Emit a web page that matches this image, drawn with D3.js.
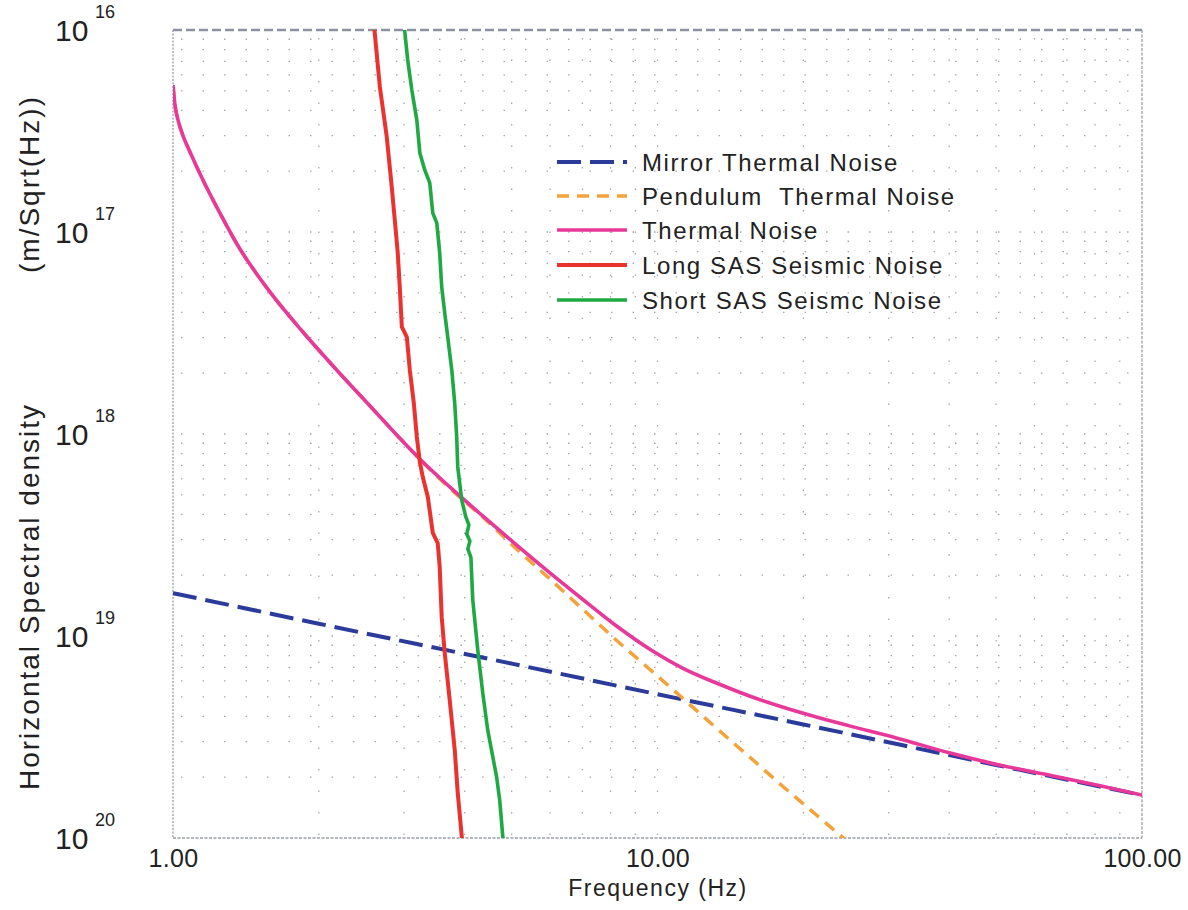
<!DOCTYPE html>
<html><head><meta charset="utf-8">
<script src="https://cdn.jsdelivr.net/npm/d3@7/dist/d3.min.js"></script>
<style>body{margin:0;background:#fff} svg{display:block}</style>
</head><body><svg id="c" width="1188" height="910"></svg>
<script>
// ---- data ----
const xTickValues = [1, 10, 100];
const xTickLabels = ["1.00", "10.00", "100.00"];
const yTickValues = [1e-16, 1e-17, 1e-18, 1e-19, 1e-20];
const yTickExponents = ["16", "17", "18", "19", "20"];
const seriesNames = ["Mirror Thermal Noise", "Pendulum  Thermal Noise", "Thermal Noise", "Long SAS Seismic Noise", "Short SAS Seismc Noise"];
const yTitleParts = ["Horizontal Spectral density", "(m/Sqrt(Hz))"];
const xTitle = "Frequency (Hz)";

const mirrorF = [1, 2, 5, 10, 20, 50, 100];
const mirrorV = [1.63e-19, 1.15e-19, 7.3e-20, 5.15e-20, 3.65e-20, 2.3e-20, 1.63e-20];

const pendulumF = [1, 1.0095, 1.024, 1.049, 1.084, 1.153, 1.25, 1.355, 1.585, 1.854, 2.179, 2.548, 2.896, 3.231, 3.725, 4.357, 5.194, 5.989, 7.003, 8.349, 9.627, 11.26, 13.23, 15.48, 18.10, 21.28, 24.07, 25.48];
const pendulumV = [5.34e-17, 4.25e-17, 3.59e-17, 2.99e-17, 2.49e-17, 1.81e-17, 1.24e-17, 8.72e-18, 5.05e-18, 3.2e-18, 2.07e-18, 1.38e-18, 9.89e-19, 7.5e-19, 5.4e-19, 3.88e-19, 2.61e-19, 1.92e-19, 1.36e-19, 9.23e-20, 6.86e-20, 4.93e-20, 3.5e-20, 2.52e-20, 1.81e-20, 1.3e-20, 1.01e-20, 9.03e-21];

const thermalF = [1, 1.0095, 1.024, 1.049, 1.084, 1.153, 1.25, 1.355, 1.585, 1.854, 2.179, 2.548, 2.896, 3.231, 3.725, 4.357, 5.121, 5.989, 7.003, 8.231, 9.627, 11.26, 13.23, 15.48, 18.10, 21.28, 24.89, 31.10, 40.0, 50.7, 64.3, 81.5, 100];
const thermalV = [5.34e-17, 4.25e-17, 3.59e-17, 2.99e-17, 2.49e-17, 1.81e-17, 1.24e-17, 8.72e-18, 5.05e-18, 3.2e-18, 2.07e-18, 1.38e-18, 9.89e-19, 7.52e-19, 5.47e-19, 3.93e-19, 2.82e-19, 2.06e-19, 1.52e-19, 1.12e-19, 8.62e-20, 6.94e-20, 5.85e-20, 5.05e-20, 4.45e-20, 3.97e-20, 3.59e-20, 3.13e-20, 2.64e-20, 2.3e-20, 2.05e-20, 1.82e-20, 1.63e-20];

const longF = [2.60, 2.673, 2.762, 2.828, 2.869, 2.910, 2.938, 2.967, 3.038, 3.082, 3.141, 3.186, 3.232, 3.278, 3.357, 3.437, 3.519, 3.552, 3.586, 3.638, 3.725, 3.815, 3.870, 3.950];
const longV = [1.05e-16, 5.22e-17, 2.95e-17, 1.67e-17, 1.15e-17, 7.87e-18, 5.35e-18, 3.39e-18, 3.02e-18, 2.07e-18, 1.42e-18, 9.66e-19, 7.26e-19, 6.12e-19, 4.88e-19, 3.24e-19, 2.88e-19, 2.2e-19, 1.24e-19, 8.24e-20, 4.82e-20, 2.73e-20, 1.67e-20, 9.8e-21];

const shortF = [3.0, 3.051, 3.111, 3.186, 3.232, 3.308, 3.388, 3.437, 3.503, 3.552, 3.586, 3.638, 3.690, 3.762, 3.815, 3.851, 3.870, 3.944, 4.02, 4.08, 4.04, 4.10, 4.06, 4.12, 4.156, 4.256, 4.358, 4.462, 4.656, 4.724, 4.80];
const shortV = [1.05e-16, 7.1e-17, 5.05e-17, 3.58e-17, 2.46e-17, 2.03e-17, 1.75e-17, 1.24e-17, 1.11e-17, 7.87e-18, 5.35e-18, 3.97e-18, 3.02e-18, 2.07e-18, 1.42e-18, 9.66e-19, 6.87e-19, 4.71e-19, 3.9e-19, 3.55e-19, 3.2e-19, 2.95e-19, 2.7e-19, 2.45e-19, 1.51e-19, 8.53e-20, 5.23e-20, 3.43e-20, 2.0e-20, 1.54e-20, 9.8e-21];

// ---- drawing ----
const svg = d3.select("#c");
const L = 173, R = 1142, T = 30, B = 838;
const x = d3.scaleLog().domain([1, 100]).range([L, R]);
const y = d3.scaleLog().domain([1e-16, 1e-20]).range([T, B]);
const font = "'Liberation Sans', Arial, Helvetica, sans-serif";
const txt = "#222";

svg.append("defs").append("clipPath").attr("id", "plot")
  .append("rect").attr("x", L).attr("y", T).attr("width", R - L).attr("height", B - T);

// grid
const grid = svg.append("g").attr("stroke", "#a8a8b2").attr("stroke-width", 1.3).attr("stroke-dasharray", "1.5,20");
grid.selectAll("line.v").data(x.ticks().filter(d => d > 1 && d < 100)).join("line")
  .attr("x1", d => x(d)).attr("x2", d => x(d)).attr("y1", T + 8).attr("y2", B);
grid.selectAll("line.h").data(y.ticks().filter(d => d < 9.99e-17 && d > 1.01e-20)).join("line")
  .attr("y1", d => y(d)).attr("y2", d => y(d)).attr("x1", L + 8).attr("x2", R);

// frame
svg.append("line").attr("x1", L).attr("x2", R).attr("y1", T).attr("y2", T)
  .attr("stroke", "#8e92a0").attr("stroke-width", 2.4).attr("stroke-dasharray", "9,4");
svg.append("line").attr("x1", L).attr("x2", R).attr("y1", B).attr("y2", B)
  .attr("stroke", "#9a9eaa").attr("stroke-width", 1.3).attr("stroke-dasharray", "3,1.5");
svg.append("line").attr("x1", L).attr("x2", L).attr("y1", T).attr("y2", B)
  .attr("stroke", "#9a9eaa").attr("stroke-width", 1.3).attr("stroke-dasharray", "2,1.5");
svg.append("line").attr("x1", R).attr("x2", R).attr("y1", T).attr("y2", B)
  .attr("stroke", "#9a9eaa").attr("stroke-width", 1.3).attr("stroke-dasharray", "3,1.5");

// series
const styles = [
  { color: "#2b3b9b", width: 4, dash: "24,9", F: mirrorF, V: mirrorV, curve: d3.curveMonotoneX },
  { color: "#f4a23c", width: 3.5, dash: "12,8", F: pendulumF, V: pendulumV, curve: d3.curveMonotoneX },
  { color: "#e8389a", width: 3.6, dash: null, F: thermalF, V: thermalV, curve: d3.curveMonotoneX },
  { color: "#e8332f", width: 4, dash: null, F: longF, V: longV, curve: d3.curveLinear },
  { color: "#1fa843", width: 3.6, dash: null, F: shortF, V: shortV, curve: d3.curveLinear }
];
const plot = svg.append("g").attr("clip-path", "url(#plot)");
styles.forEach(s => {
  const pts = s.F.map((f, i) => [f, s.V[i]]);
  const line = d3.line().x(d => x(d[0])).y(d => y(d[1])).curve(s.curve);
  plot.append("path").attr("d", line(pts)).attr("fill", "none")
    .attr("stroke", s.color).attr("stroke-width", s.width)
    .attr("stroke-dasharray", s.dash).attr("stroke-linejoin", "round");
});

// x axis labels
const xAxis = d3.axisBottom(x).tickValues(xTickValues).tickFormat((d, i) => xTickLabels[i]).tickSize(0).tickPadding(0);
const gx = svg.append("g").attr("transform", `translate(0,${B})`).call(xAxis);
gx.select(".domain").remove();
gx.selectAll("text").attr("font-family", font).attr("font-size", 25).attr("fill", txt)
  .attr("dy", null).attr("y", 29).attr("letter-spacing", "0.3px");

// y axis labels
const yAxis = d3.axisLeft(y).tickValues(yTickValues).tickFormat("").tickSize(0);
const gy = svg.append("g").attr("transform", `translate(${L},0)`).call(yAxis);
gy.select(".domain").remove();
gy.attr("text-anchor", "start");
gy.selectAll(".tick").each(function (d, i) {
  const g = d3.select(this);
  g.select("text").remove();
  g.append("text").attr("x", 55 - L).attr("y", 10).attr("font-family", font).attr("font-size", 30)
    .attr("text-anchor", "start").attr("fill", txt).text("10");
  g.append("text").attr("x", 95 - L).attr("y", -13).attr("font-family", font).attr("font-size", 18)
    .attr("text-anchor", "start").attr("fill", txt).text(yTickExponents[i]);
});

// axis titles
svg.append("text").attr("x", 658).attr("y", 896).attr("text-anchor", "middle")
  .attr("font-family", font).attr("font-size", 23).attr("letter-spacing", "1.5px").attr("fill", txt)
  .text(xTitle);
svg.append("text").attr("transform", "translate(39,790) rotate(-90)").attr("text-anchor", "start")
  .attr("font-family", font).attr("font-size", 28).attr("letter-spacing", "2px").attr("fill", txt)
  .text(yTitleParts[0]);
svg.append("text").attr("transform", "translate(39,95) rotate(-90)").attr("text-anchor", "end")
  .attr("font-family", font).attr("font-size", 28).attr("letter-spacing", "2px").attr("fill", txt)
  .text(yTitleParts[1]);

// legend
const legY = [162, 196, 230, 265, 300];
const leg = svg.append("g");
styles.forEach((s, i) => {
  leg.append("line").attr("x1", 557).attr("x2", 627).attr("y1", legY[i]).attr("y2", legY[i])
    .attr("stroke", s.color).attr("stroke-width", s.width).attr("stroke-dasharray", s.dash);
  leg.append("text").attr("x", 642).attr("y", legY[i] + 8.5).attr("font-family", font).attr("font-size", 24)
    .attr("letter-spacing", "1.6px").attr("fill", txt).style("white-space", "pre").text(seriesNames[i]);
});
</script></body></html>
